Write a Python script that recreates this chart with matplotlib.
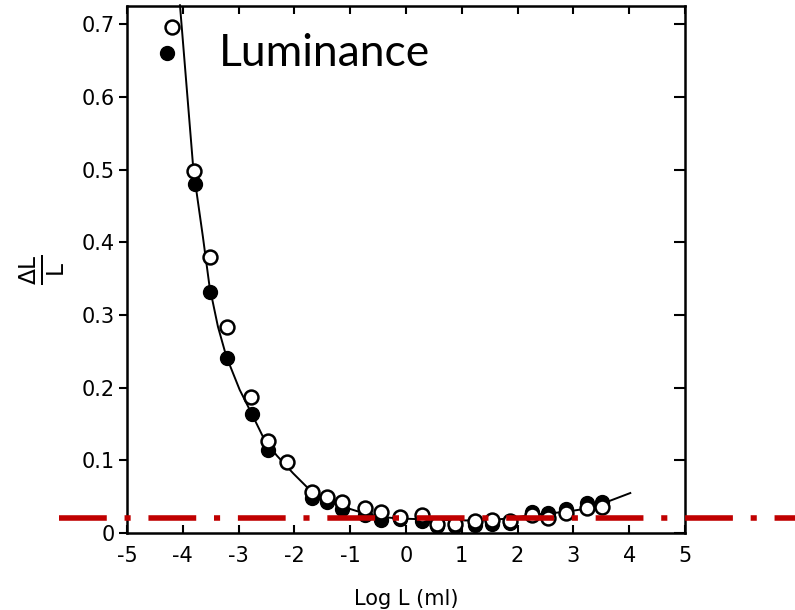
import matplotlib
matplotlib.use('Agg')
from matplotlib import pyplot as plt

plt.rcParams['axes.unicode_minus'] = False

# open circles
open_x = [-4.20, -3.80, -3.52, -3.20, -2.77, -2.47, -2.14, -1.69, -1.42, -1.14, -0.74, -0.44,
          -0.11, 0.28, 0.55, 0.88, 1.24, 1.54, 1.87, 2.25, 2.55, 2.87, 3.24, 3.51]
open_y = [0.696, 0.498, 0.380, 0.283, 0.187, 0.127, 0.098, 0.057, 0.050, 0.042, 0.034, 0.029,
          0.022, 0.025, 0.013, 0.013, 0.016, 0.018, 0.017, 0.025, 0.020, 0.028, 0.034, 0.036]

# filled circles
filled_x = [-4.29, -3.78, -3.52, -3.20, -2.76, -2.47, -1.69, -1.42, -1.14, -0.74, -0.44, -0.11,
            0.28, 0.55, 0.88, 1.24, 1.54, 1.87, 2.25, 2.55, 2.87, 3.24, 3.51]
filled_y = [0.660, 0.480, 0.332, 0.241, 0.164, 0.114, 0.048, 0.042, 0.033, 0.025, 0.018, 0.019,
            0.016, 0.009, 0.009, 0.011, 0.012, 0.014, 0.029, 0.027, 0.033, 0.041, 0.043]

# fitted curve
curve_x = [-4.05, -3.81, -3.64, -3.52, -3.37, -3.22, -2.98, -2.77, -2.56, -2.32, -2.02, -1.72,
           -1.42, -1.12, -0.75, -0.44, -0.12, 0.25, 0.61, 1.27, 1.87, 2.25, 2.85, 3.27, 3.54, 4.02]
curve_y = [0.726, 0.500, 0.408, 0.339, 0.284, 0.243, 0.197, 0.165, 0.132, 0.107, 0.082, 0.059,
           0.045, 0.036, 0.027, 0.022, 0.020, 0.019, 0.018, 0.017, 0.020, 0.025, 0.029, 0.034,
           0.041, 0.055]

threshold = 0.02
x_ticks = [-5, -4, -3, -2, -1, 0, 1, 2, 3, 4, 5]
y_ticks = [0, 0.1, 0.2, 0.3, 0.4, 0.5, 0.6, 0.7]
y_labels = ['0', '0.1', '0.2', '0.3', '0.4', '0.5', '0.6', '0.7']

fig = plt.figure(figsize=(7.95, 6.10), dpi=100)
ax = fig.add_axes([0.1597, 0.1262, 0.7019, 0.864])

ax.plot(curve_x, curve_y, color='black', lw=1.4, zorder=2, clip_on=False,
        solid_joinstyle='round')
ax.plot(filled_x, filled_y, 'o', color='black', ms=10, zorder=3)
ax.plot(open_x, open_y, 'o', mfc='white', mec='black', mew=1.8, ms=10, zorder=4)

# red dash-dot reference line, runs past the axes
ax.plot([-6.22, 7.0], [threshold, threshold], color='#C00000', lw=4,
        linestyle=(0, (8.6, 3.2, 1.1, 3.2)), zorder=5, clip_on=False)

ax.set_xlim(-5, 5)
ax.set_ylim(0, 0.725)
ax.set_xticks(x_ticks)
ax.set_xticklabels([str(t) for t in x_ticks])
ax.set_yticks(y_ticks)
ax.set_yticklabels(y_labels)

for s in ax.spines.values():
    s.set_linewidth(1.8)

ax.tick_params(axis='x', direction='in', top=True, length=6, width=1.5,
               labelsize=15, pad=9)
ax.tick_params(axis='y', which='both', left=True, right=False, direction='out',
               length=6, width=1.5, labelsize=15, pad=3)

# right side ticks point inward
ax2 = ax.twinx()
ax2.set_ylim(ax.get_ylim())
ax2.set_yticks(y_ticks)
ax2.set_yticklabels([])
ax2.tick_params(direction='in', length=8, width=1.5)
for s in ax2.spines.values():
    s.set_visible(False)

ax.set_xlabel('Log L (ml)', fontsize=15, labelpad=17)
ax.set_ylabel(r'$\frac{\Delta \mathrm{L}}{\mathrm{L}}$', fontsize=24, labelpad=10)

ax.text(0.165, 0.91, 'Luminance', transform=ax.transAxes, fontsize=32,
        family='Lato', va='center', ha='left')

plt.savefig('out.png')
